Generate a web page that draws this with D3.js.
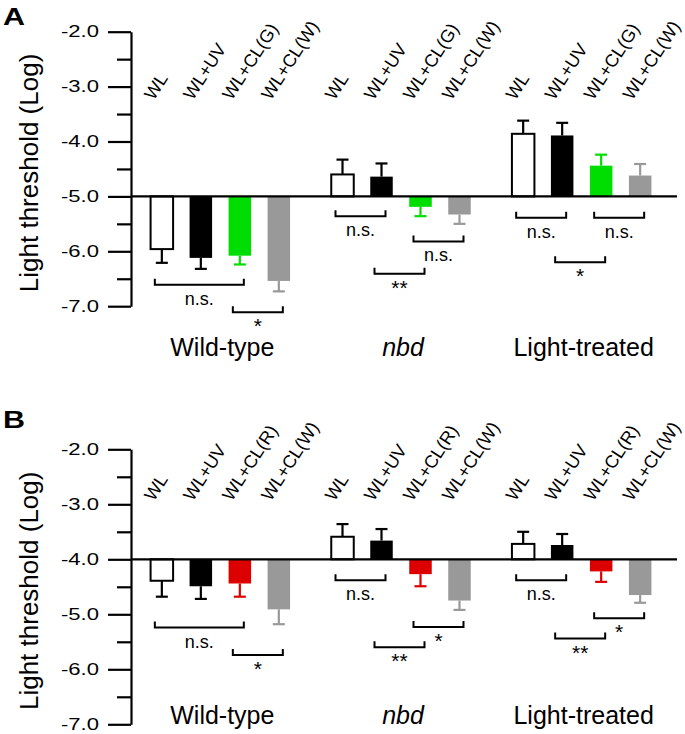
<!DOCTYPE html>
<html><head><meta charset="utf-8">
<script src="https://cdn.jsdelivr.net/npm/d3@7"></script>
<style>body{margin:0;background:#fff} svg{display:block} text{font-family:"Liberation Sans",Arial,Helvetica,sans-serif;fill:#000}</style>
</head><body><svg id="c" width="685" height="734"></svg>
<script>
// ---------- data ----------
const groups = ["Wild-type", "nbd", "Light-treated"];
const conditionsA = ["WL", "WL+UV", "WL+CL(G)", "WL+CL(W)"];
const conditionsB = ["WL", "WL+UV", "WL+CL(R)", "WL+CL(W)"];
const meansA  = [[-5.96, -6.12, -6.08, -6.54], [-4.60, -4.64, -5.19, -5.33], [-3.86, -3.89, -4.44, -4.62]];
const errorsA = [[0.25, 0.20, 0.16, 0.19], [0.27, 0.24, 0.17, 0.17], [0.24, 0.23, 0.20, 0.21]];
const meansB  = [[-4.39, -4.49, -4.44, -4.91], [-3.59, -3.66, -4.27, -4.75], [-3.72, -3.74, -4.22, -4.65]];
const errorsB = [[0.29, 0.23, 0.24, 0.27], [0.23, 0.21, 0.22, 0.17], [0.22, 0.20, 0.19, 0.14]];
const baselineA = -5.0;
const baselineB = -4.0;
const yMajorTicks = [-2, -3, -4, -5, -6, -7];
const yTickLabels = ["-2.0", "-3.0", "-4.0", "-5.0", "-6.0", "-7.0"];
const yMinorTicks = [-2.5, -3.5, -4.5, -5.5, -6.5];
const fillsA = ["#ffffff", "#000000", "#00dd00", "#999999"];
const fillsB = ["#ffffff", "#000000", "#dd0000", "#999999"];
const bracketsA = [
  {g: 0, from: 0, to: 2, y: -6.61, label: "n.s."},
  {g: 0, from: 2, to: 3, y: -7.11, label: "*"},
  {g: 1, from: 0, to: 1, y: -5.36, label: "n.s."},
  {g: 1, from: 2, to: 3, y: -5.82, label: "n.s."},
  {g: 1, from: 1, to: 2, y: -6.41, label: "**"},
  {g: 2, from: 0, to: 1, y: -5.39, label: "n.s."},
  {g: 2, from: 2, to: 3, y: -5.39, label: "n.s."},
  {g: 2, from: 1, to: 2, y: -6.20, label: "*"}
];
const bracketsB = [
  {g: 0, from: 0, to: 2, y: -5.24, label: "n.s."},
  {g: 0, from: 2, to: 3, y: -5.74, label: "*"},
  {g: 1, from: 0, to: 1, y: -4.38, label: "n.s."},
  {g: 1, from: 2, to: 3, y: -5.23, label: "*"},
  {g: 1, from: 1, to: 2, y: -5.60, label: "**"},
  {g: 2, from: 0, to: 1, y: -4.38, label: "n.s."},
  {g: 2, from: 2, to: 3, y: -5.07, label: "*"},
  {g: 2, from: 1, to: 2, y: -5.44, label: "**"}
];
const yAxisTitle = "Light threshold (Log)";

// ---------- drawing ----------
const svg = d3.select("#c");
const x0 = d3.scaleBand().domain(groups).range([130, 672]);
const x1 = d3.scaleBand().domain([0, 1, 2, 3]).range([0, x0.bandwidth()]).paddingInner(0.423).paddingOuter(0.528);
const cx = (gi, ci) => x0(groups[gi]) + x1(ci) + x1.bandwidth() / 2;

function panel(cfg) {
  const y = d3.scaleLinear().domain([-2, -7]).range([cfg.top, cfg.bottom]);
  const g = svg.append("g");
  const axisX = 131;

  // panel letter
  g.append("text").attr("x", 3).attr("y", cfg.letterY).attr("font-size", 24).attr("font-weight", "bold")
    .attr("textLength", 22).attr("lengthAdjust", "spacingAndGlyphs").text(cfg.letter);

  // y axis title
  g.append("text").attr("transform", `translate(38,${(cfg.top + cfg.bottom) / 2 + 4}) rotate(-90)`)
    .attr("text-anchor", "middle").attr("font-size", 26).text(yAxisTitle);

  // major axis
  const major = d3.axisLeft(y).tickValues(yMajorTicks).tickSize(23).tickSizeOuter(0).tickPadding(9)
    .tickFormat((d, i) => yTickLabels[i]);
  const ag = g.append("g").attr("transform", `translate(${axisX},0)`).call(major);
  ag.select(".domain").attr("stroke", "#000").attr("stroke-width", 2.2);
  ag.selectAll(".tick line").attr("stroke", "#000").attr("stroke-width", 2.2);
  ag.selectAll(".tick text").attr("font-size", 16.5).attr("font-family", null)
    .attr("textLength", 38).attr("lengthAdjust", "spacingAndGlyphs");
  // minor ticks
  const minor = d3.axisLeft(y).tickValues(yMinorTicks).tickSize(14).tickSizeOuter(0).tickFormat("");
  const mg = g.append("g").attr("transform", `translate(${axisX},0)`).call(minor);
  mg.select(".domain").remove();
  mg.selectAll(".tick line").attr("stroke", "#000").attr("stroke-width", 2.2);

  // bars + error bars
  groups.forEach((grp, gi) => {
    cfg.means[gi].forEach((m, ci) => {
      const xl = x0(grp) + x1(ci);
      const yb = y(cfg.base), ym = y(m);
      const fill = cfg.fills[ci];
      const errColor = fill === "#ffffff" ? "#000000" : fill;
      const up = m > cfg.base;
      const e = up ? m + cfg.errors[gi][ci] : m - cfg.errors[gi][ci];
      const c = cx(gi, ci);
      g.append("line").attr("x1", c).attr("x2", c).attr("y1", ym).attr("y2", y(e))
        .attr("stroke", errColor).attr("stroke-width", 2.2);
      g.append("line").attr("x1", c - 6).attr("x2", c + 6).attr("y1", y(e)).attr("y2", y(e))
        .attr("stroke", errColor).attr("stroke-width", 2.2);
      g.append("rect").attr("x", xl).attr("width", x1.bandwidth())
        .attr("y", Math.min(yb, ym)).attr("height", Math.abs(yb - ym))
        .attr("fill", fill)
        .attr("stroke", fill === "#ffffff" ? "#000" : "none").attr("stroke-width", 2);
      // category label
      g.append("text").attr("transform", `translate(${c - 8},${cfg.labelY}) rotate(-57)`)
        .attr("font-size", 18).text(cfg.conditions[ci]);
    });
    // group label
    g.append("text").attr("x", x0(grp) + x0.bandwidth() / 2 + 2).attr("y", cfg.groupY)
      .attr("text-anchor", "middle").attr("font-size", 25)
      .attr("font-style", grp === "nbd" ? "italic" : null).text(grp);
  });

  // baseline
  g.append("line").attr("x1", axisX).attr("x2", 677).attr("y1", y(cfg.base)).attr("y2", y(cfg.base))
    .attr("stroke", "#000").attr("stroke-width", 2.2);

  // significance brackets
  cfg.brackets.forEach(b => {
    const xl = cx(b.g, b.from) - 7, xr = cx(b.g, b.to) + 4, yb = y(b.y);
    g.append("path").attr("d", `M${xl},${yb - 6}V${yb}H${xr}V${yb - 6}`)
      .attr("fill", "none").attr("stroke", "#000").attr("stroke-width", 2);
    const star = b.label.includes("*");
    g.append("text").attr("x", (xl + xr) / 2).attr("y", yb + (star ? 21 : 20))
      .attr("text-anchor", "middle").attr("font-size", star ? 21 : 18).text(b.label);
  });
}

panel({letter: "A", letterY: 25, top: 31.7, bottom: 306.2, base: baselineA, means: meansA, errors: errorsA,
  fills: fillsA, conditions: conditionsA, brackets: bracketsA, labelY: 101, groupY: 356});
panel({letter: "B", letterY: 428, top: 449.3, bottom: 724.3, base: baselineB, means: meansB, errors: errorsB,
  fills: fillsB, conditions: conditionsB, brackets: bracketsB, labelY: 502, groupY: 724});
</script></body></html>
